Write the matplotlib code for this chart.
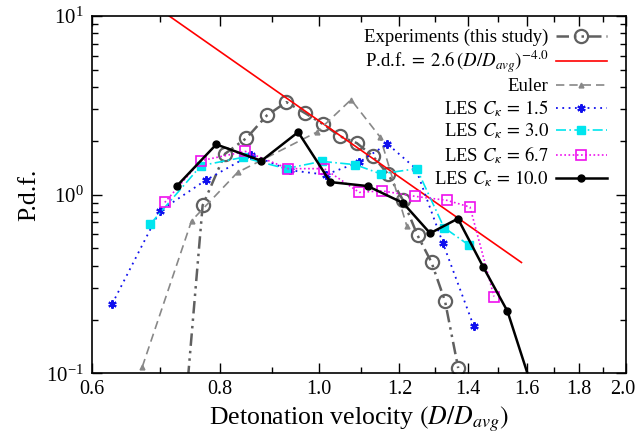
import numpy as np
import matplotlib
matplotlib.use("Agg")
import matplotlib.pyplot as plt
import matplotlib.transforms as mtransforms
from matplotlib.ticker import FixedLocator, NullFormatter, LogLocator

plt.rcParams['font.family'] = ['Liberation Serif', 'DejaVu Serif']
plt.rcParams['mathtext.fontset'] = 'stix'

# Experiments (this study)
exp_x = [0.73, 0.77, 0.81, 0.85, 0.89, 0.93, 0.97, 1.01, 1.05, 1.09, 1.13, 1.17, 1.21, 1.25, 1.29, 1.33, 1.37]
exp_y = [0.024, 0.871, 1.695, 2.073, 2.777, 3.295, 2.86, 2.483, 2.119, 1.944, 1.644, 1.299, 0.929, 0.592, 0.418, 0.253, 0.107]

# Power-law fit P.d.f. = 2.6 (D/Davg)^-4.0
fit_coef = 2.6
fit_exp = -4.0
fit_x = [0.60, 1.58]

# Euler
eul_x = [0.672, 0.751, 0.833, 0.996, 1.076, 1.149, 1.220]
eul_y = [0.1086, 0.714, 1.332, 2.239, 3.40, 2.10, 0.669]

# LES C_kappa = 1.5
l15_x = [0.628, 0.699, 0.775, 0.859, 0.937, 1.016, 1.096, 1.168, 1.245, 1.323, 1.419]
l15_y = [0.245, 0.81, 1.202, 1.674, 1.37, 1.294, 1.521, 1.923, 1.40, 0.539, 0.1834]

# LES C_kappa = 3.0
l30_x = [0.684, 0.767, 0.843, 0.929, 1.007, 1.086, 1.1505, 1.2477, 1.3269, 1.4047]
l30_y = [0.682, 1.453, 1.617, 1.398, 1.536, 1.472, 1.307, 1.398, 0.654, 0.520]

# LES C_kappa = 6.7
l67_x = [0.707, 0.767, 0.848, 0.934, 1.013, 1.096, 1.154, 1.244, 1.336, 1.407, 1.485]
l67_y = [0.905, 1.549, 1.746, 1.398, 1.398, 1.030, 1.050, 0.978, 0.929, 0.852, 0.269]

# LES C_kappa = 10.0
l10_x = [0.727, 0.794, 0.879, 0.955, 1.027, 1.117, 1.210, 1.286, 1.369, 1.449, 1.531, 1.61]
l10_y = [1.123, 1.911, 1.546, 2.239, 1.176, 1.117, 0.898, 0.608, 0.734, 0.395, 0.2225, 0.091]

xticks = [0.6, 0.8, 1.0, 1.2, 1.4, 1.6, 1.8, 2.0]
xminor = [0.7, 0.9, 1.1, 1.3, 1.5, 1.7, 1.9]

fig = plt.figure(figsize=(6.37, 4.42), dpi=100)
ax = fig.add_axes([92/637, 1-373.3/442, (626-92)/637, (373.3-16)/442])

ax.plot(exp_x, exp_y, color='#606060', lw=1.8, ls=(0, (5, 2, 1, 2, 1, 2)),
        marker='o', ms=9.5, mfc='none', mec='#606060', mew=1.6,
        label='Experiments (this study)')
fx = np.array(fit_x)
ax.plot(fx, fit_coef * fx ** fit_exp, color='red', lw=1.2,
        label=r'P.d.f.$\;=\;2.6\,(D/D_{avg})^{-4.0}$')
ax.plot(eul_x, eul_y, color='#888888', lw=1.2, ls=(0, (5, 3)),
        marker='^', ms=3.5, mfc='#888888', mec='#888888',
        label='Euler')
ax.plot(l15_x, l15_y, color='#1010ee', lw=1.3, ls=(0, (1, 2.5)),
        marker=(6, 2, 0), ms=6, mew=1.5, mec='#1010ee',
        label=r'LES $C_\kappa\,=\,1.5$')
ax.plot(l30_x, l30_y, color='#00e5ee', lw=1.2, ls=(0, (6, 2, 1, 2)),
        marker='s', ms=5.5, mfc='#00e5ee', mec='#00e5ee',
        label=r'LES $C_\kappa\,=\,3.0$')
ax.plot(l67_x, l67_y, color='#ee10ee', lw=1.2, ls=(0, (1, 1.5)),
        marker='s', ms=6.5, mfc='none', mec='#ee10ee', mew=1.2,
        label=r'LES $C_\kappa\,=\,6.7$')
ax.plot(l10_x, l10_y, color='black', lw=1.8, ls='-',
        marker='o', ms=5, mfc='black', mec='black',
        label=r'LES $C_\kappa\,=\,10.0$')

ax.set_xscale('log')
ax.set_yscale('log')
ax.set_xlim(0.6, 2.0)
ax.set_ylim(0.1, 10)
ax.xaxis.set_major_locator(FixedLocator(xticks))
ax.xaxis.set_minor_locator(FixedLocator(xminor))
ax.set_xticklabels(['%.1f' % v for v in xticks])
ax.xaxis.set_minor_formatter(NullFormatter())
ax.yaxis.set_major_locator(LogLocator(base=10, numticks=5))
ax.yaxis.set_minor_locator(LogLocator(base=10, subs=np.arange(2, 10), numticks=20))
ax.yaxis.set_minor_formatter(NullFormatter())

ax.tick_params(which='both', direction='in', top=True, right=True, labelsize=15)
ax.tick_params(axis='x', labelsize=14.5)
ax.tick_params(which='major', length=7, width=1)
ax.tick_params(which='minor', length=4, width=1)
ax.tick_params(axis='x', pad=5)
ax.tick_params(axis='y', pad=6)
for s in ax.spines.values():
    s.set_linewidth(1.2)

# nudge the last x tick label so it stays inside the figure
last = ax.get_xticklabels()[-1]
last.set_transform(last.get_transform() + mtransforms.ScaledTranslation(-3/100, 0, fig.dpi_scale_trans))

ax.set_xlabel(r'Detonation velocity $(D/D_{avg})$', fontsize=18.5, labelpad=4)
ax.set_ylabel('P.d.f.', fontsize=18.5, labelpad=4)

leg = ax.legend(loc='upper right', markerfirst=False, frameon=False, fontsize=13.5,
                handlelength=2.7, handletextpad=0.4, labelspacing=0.15,
                borderaxespad=0.2, bbox_to_anchor=(0.985, 0.995))
for t in leg.get_texts():
    t.set_ha('right')

fig.savefig('out.png', dpi=100)
